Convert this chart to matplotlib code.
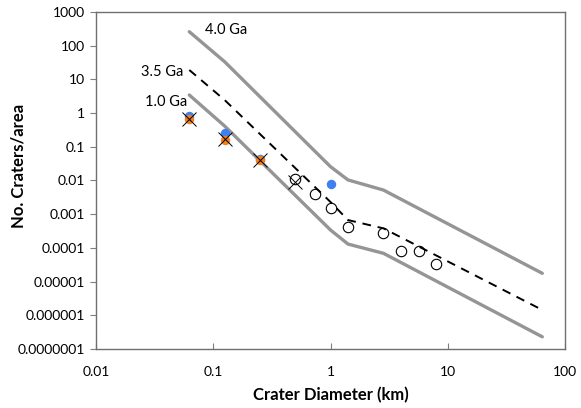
import matplotlib.pyplot as plt

plt.rcParams['font.family'] = ['Lato', 'DejaVu Sans']

# isochron diameters (km) and densities
iso_d = [0.0625, 0.125, 1.0, 1.41, 2.83, 64.0]
iso_4_0 = [260, 33.5, 0.0257, 0.0104, 0.0052, 1.76e-5]
iso_3_5 = [19, 2.45, 0.0023, 0.00067, 0.00038, 1.44e-6]
iso_1_0 = [3.44, 0.414, 3.4e-4, 1.3e-4, 6.9e-5, 2.3e-7]

# crater counts
blue_d = [0.0625, 0.125, 0.25, 1.0]
blue_n = [0.8, 0.25, 0.043, 0.0079]
orange_d = [0.0625, 0.125, 0.25]
orange_n = [0.68, 0.16, 0.0406]
cross_d = [0.0625, 0.125, 0.25, 0.5]
cross_n = [0.66, 0.165, 0.0406, 0.0089]
open_d = [0.5, 0.74, 1.0, 1.41, 2.83, 4.0, 5.66, 8.0]
open_n = [0.0111, 0.0039, 0.0015, 0.00043, 0.00027, 8.3e-5, 8.3e-5, 3.3e-5]

y_ticks = [1e3, 1e2, 1e1, 1, 0.1, 0.01, 0.001, 1e-4, 1e-5, 1e-6, 1e-7]
y_labels = ['1000', '100', '10', '1', '0.1', '0.01', '0.001', '0.0001',
            '0.00001', '0.000001', '0.0000001']
x_ticks = [0.01, 0.1, 1, 10, 100]
x_labels = ['0.01', '0.1', '1', '10', '100']

fig = plt.figure(figsize=(5.81, 4.08), dpi=100)
ax = fig.add_axes([0.1652, 0.1446, 0.8073, 0.826])

gray = '#959595'
ax.plot(iso_d, iso_4_0, color=gray, lw=2.4, solid_capstyle='round', zorder=2)
ax.plot(iso_d, iso_1_0, color=gray, lw=2.4, solid_capstyle='round', zorder=2)
ax.plot(iso_d, iso_3_5, color='black', lw=1.4, dashes=(4.5, 3.5), zorder=2)

ax.plot(blue_d, blue_n, 'o', color='#3F7FF0', ms=6.8, mec='none', zorder=3)
ax.plot(orange_d, orange_n, 'o', color='#EE7F22', ms=6.8, mec='none', zorder=4)
ax.plot(open_d, open_n, 'o', mfc='none', mec='black', mew=0.8, ms=7.5, zorder=5)
ax.plot(cross_d, cross_n, 'x', color='black', ms=10, mew=0.7, zorder=6)

ax.text(0.085, 290, '4.0 Ga', fontsize=10.5, ha='left', va='center')
ax.text(0.0555, 17, '3.5 Ga', fontsize=10.5, ha='right', va='center')
ax.text(0.0597, 2.2, '1.0 Ga', fontsize=10.5, ha='right', va='center')

ax.set_xscale('log')
ax.set_yscale('log')
ax.set_xlim(0.01, 100)
ax.set_ylim(1e-7, 1e3)
ax.set_xticks(x_ticks)
ax.set_xticklabels(x_labels)
ax.set_yticks(y_ticks)
ax.set_yticklabels(y_labels)
ax.minorticks_off()
ax.tick_params(axis='x', direction='in', length=4, labelsize=10, pad=12,
               color='#7f7f7f')
ax.tick_params(axis='y', direction='out', length=4, labelsize=10, pad=4,
               color='#7f7f7f')
for s in ax.spines.values():
    s.set_color('#6f6f6f')
    s.set_linewidth(1.0)

ax.set_xlabel('Crater Diameter (km)', fontsize=12, fontweight='bold')
ax.xaxis.set_label_coords(0.5, -0.113)
ax.set_ylabel('No. Craters/area', fontsize=12, fontweight='bold')
ax.yaxis.set_label_coords(-0.149, 0.543)

fig.savefig('out.png', dpi=100)
